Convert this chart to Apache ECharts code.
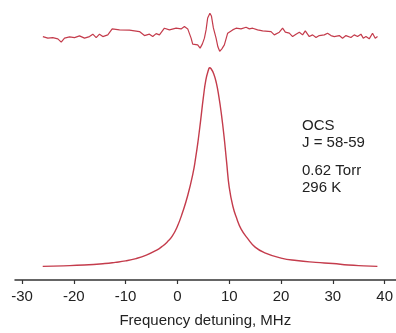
<!DOCTYPE html>
<html><head><meta charset="utf-8">
<script src="https://cdn.jsdelivr.net/npm/echarts@6/dist/echarts.min.js"></script>
<style>html,body{margin:0;padding:0;background:#fff}#c{width:396px;height:333px}</style>
</head><body><div id="c"></div>
<script>
// Main absorption spectrum (frequency detuning MHz, signal a.u.)
const specX = [-26,-22,-18,-14,-12,-10,-8,-6,-4,-3,-2,-1,0,1,2,3,3.5,4,4.5,5,5.5,6,6.2,6.5,7,7.5,8,8.5,9,9.5,10,10.7,11.5,12.3,13.5,15,17,20,23,26.7,30,33,36,38.6];
const specY = [13.7,14.2,15,16.5,17.7,19.2,21.5,25,30,33.5,38,44,54,68,85,107,122,140,161,183,201,211,213,212,207,198,184,166,144,118,93,74,61,51,42,33,27,22,19.5,17.7,16.5,15,14.2,13.7];
// Residual trace (offset above)
const resX = [-25.97,-25.01,-24.05,-23.08,-22.43,-21.79,-20.82,-19.86,-18.9,-17.93,-16.97,-16.33,-15.68,-15.04,-14.4,-13.44,-12.59,-11.18,-9.26,-7.33,-6.36,-5.4,-4.76,-4.11,-3.47,-2.51,-1.54,-0.25,0.71,1.35,1.99,2.64,2.95,3.91,4.38,4.82,5.21,5.53,5.84,6.27,6.56,6.94,7.46,7.81,8.16,8.58,9.06,9.7,10.66,11.32,12.28,13.25,13.88,14.52,15.48,16.45,18.07,18.7,19.67,20.3,20.83,21.6,22.23,22.89,23.53,24.16,24.68,25.45,26.09,26.75,27.38,28.35,28.98,29.64,30.27,31.24,31.87,32.53,33.49,34.13,34.77,35.42,35.87,36.39,37.02,37.66,38.18,38.62];
const resY = [244.3,242.7,243.3,242,238.7,242.7,244,243.3,245,242.7,244.3,246.7,243.3,246.7,244.3,246,252,251,250.7,249.3,245.3,246.7,244.3,247.3,246,252.7,251,252.7,252,254.3,252,242.7,236.7,236,232.7,237,242.7,251,263,267.7,265,253,242.7,234,229.5,232,236,247.7,251,252.7,252,253.7,252,252.7,251,250,249.3,246,248.7,252.7,248.7,247.7,244.3,246.7,248.7,246,250,244.3,246,243.3,245.3,246,247.7,245.3,244.3,245.3,242.7,245.3,243.3,246,244.3,246.7,242.7,244.3,242,247.7,242.7,244.3];
const xTicks = [-30,-20,-10,0,10,20,30,40];
const xTitle = 'Frequency detuning, MHz';
const notes = ['OCS','J = 58-59','0.62 Torr','296 K'];

const col = '#c43c4c';
const font = 'Liberation Sans, Arial';
const zip = (a,b)=>a.map((v,i)=>[v,b[i]]);
const chart = echarts.init(document.getElementById('c'));
chart.setOption({
  animation:false,
  grid:{left:15,right:0,top:0,bottom:52},
  xAxis:{type:'value',min:-31.35,max:42.12,
    axisLine:{lineStyle:{color:'#333',width:1.5}},
    axisTick:{show:true,length:4,lineStyle:{color:'#333',width:1.2},customValues:xTicks},
    axisLabel:{color:'#222',fontSize:15,fontFamily:font,margin:9,customValues:xTicks},
    splitLine:{show:false},
    name:xTitle,nameLocation:'middle',nameGap:33,
    nameTextStyle:{color:'#222',fontSize:15,fontFamily:font}},
  yAxis:{type:'value',min:0,max:281,show:false},
  series:[
    {type:'line',data:zip(specX,specY),showSymbol:false,smooth:0.5,lineStyle:{color:col,width:1.4}},
    {type:'line',data:zip(resX,resY),showSymbol:false,smooth:false,lineStyle:{color:col,width:1.2}}
  ],
  graphic:[
    {type:'text',left:302,top:117,style:{text:notes[0]+'\n'+notes[1],fontSize:15,lineHeight:17,fill:'#222',fontFamily:font}},
    {type:'text',left:302,top:162,style:{text:notes[2]+'\n'+notes[3],fontSize:15,lineHeight:17,fill:'#222',fontFamily:font}}
  ]
});
</script></body></html>
